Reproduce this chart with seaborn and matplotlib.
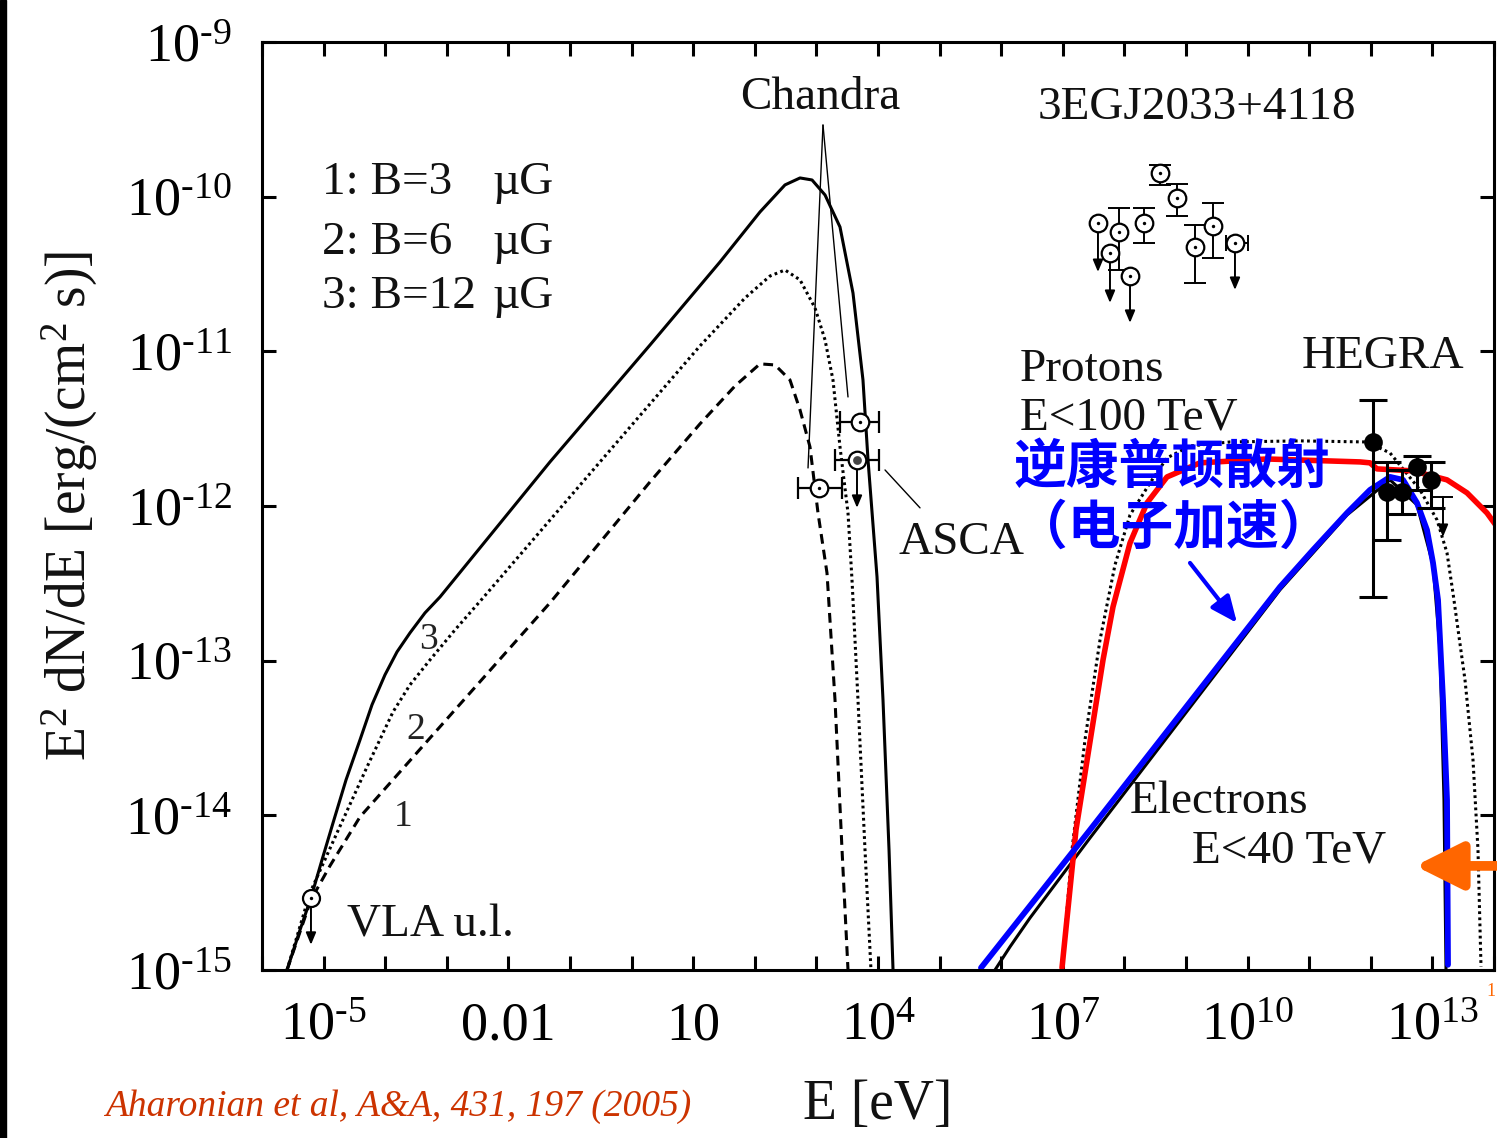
import numpy as np
import pandas as pd
import matplotlib
matplotlib.use("Agg")
import matplotlib.pyplot as plt
import seaborn as sns
from matplotlib.patches import Rectangle

# ---------------------------------------------------------------
# Model curves: log10(E / eV) and log10(E^2 dN/dE / erg cm^-2 s^-1)
# ---------------------------------------------------------------
# synchrotron, B = 12 uG (curve 3, solid)
sync3_logE = [-5.594, -5.383, -5.205, -5.026, -4.847, -4.636, -4.409, -4.214, -4.003,
              -3.808, -3.597, -3.354, -3.110, -1.325, 0.299, 1.435, 2.084, 2.490, 2.734,
              2.929, 3.140, 3.383, 3.594, 3.756, 3.838, 3.984, 4.081, 4.179, 4.244]
sync3_logF = [-15.0, -14.741, -14.533, -14.288, -14.049, -13.771, -13.512, -13.285, -13.091,
              -12.943, -12.820, -12.691, -12.588, -11.715, -10.959, -10.422, -10.099, -9.924,
              -9.879, -9.892, -9.989, -10.196, -10.623, -11.185, -11.702, -12.458, -13.253,
              -14.223, -15.0]
# synchrotron, B = 6 uG (curve 2, dotted)
sync2_logE = [-5.594, -5.221, -4.782, -4.295, -3.873, -3.597, -3.273, -2.867, -2.412, -0.513,
              1.110, 1.841, 2.247, 2.490, 2.734, 2.977, 3.140, 3.269, 3.383, 3.513, 3.578,
              3.675, 3.789, 3.886]
sync2_logF = [-15.0, -14.501, -14.113, -13.687, -13.331, -13.156, -12.995, -12.801, -12.594,
              -11.715, -10.965, -10.655, -10.513, -10.474, -10.538, -10.719, -10.926, -11.185,
              -11.618, -12.045, -12.478, -13.253, -14.223, -15.0]
# synchrotron, B = 3 uG (curve 1, dashed)
sync1_logE = [-5.594, -5.205, -4.896, -4.409, -1.325, 0.299, 1.110, 1.679, 2.084, 2.328,
              2.571, 2.734, 2.896, 3.026, 3.172, 3.302, 3.416, 3.513]
sync1_logF = [-15.0, -14.546, -14.326, -14.010, -12.626, -11.844, -11.469, -11.224, -11.081,
              -11.088, -11.185, -11.379, -11.618, -12.045, -12.433, -13.253, -14.223, -15.0]
# inverse Compton from electrons, E < 40 TeV (black)
ic_logE = [5.899, 6.143, 6.468, 7.442, 10.526, 11.614, 12.312, 12.750, 13.010, 13.123,
           13.188, 13.221]
ic_logF = [-15.0, -14.850, -14.663, -14.146, -12.542, -12.058, -11.831, -11.993, -12.381,
           -12.930, -13.900, -15.0]
# pi0 decay from protons, E < 100 TeV (dotted)
pp_logE = [6.987, 7.149, 7.360, 7.604, 7.847, 8.091, 8.416, 8.692, 9.065, 9.714, 10.851,
           11.938, 12.312, 12.799, 13.075, 13.237, 13.334, 13.529, 13.659, 13.740, 13.789]
pp_logF = [-15.0, -14.223, -13.512, -12.866, -12.381, -12.058, -11.851, -11.689, -11.612,
           -11.586, -11.579, -11.586, -11.657, -11.896, -12.090, -12.303, -12.562, -13.124,
           -13.641, -14.223, -14.979]
# highlighted inverse Compton curve (blue)
blue_logE = [5.672, 7.442, 10.526, 11.062, 11.614, 11.987, 12.312, 12.523, 12.750, 12.912,
             13.010, 13.091, 13.172, 13.237, 13.253]
blue_logF = [-14.986, -14.094, -12.523, -12.284, -12.045, -11.896, -11.812, -11.831, -11.980,
             -12.155, -12.368, -12.607, -13.253, -13.900, -14.966]
# highlighted hadronic curve (red)
red_logE = [6.987, 7.214, 7.653, 7.815, 8.091, 8.367, 8.692, 9.227, 10.315, 11.825, 11.987,
            12.101, 12.685, 13.237, 13.562, 13.886, 14.05]
red_logF = [-14.986, -14.094, -12.995, -12.652, -12.239, -11.980, -11.812, -11.721, -11.696,
            -11.715, -11.721, -11.760, -11.773, -11.831, -11.915, -12.045, -12.135]

# ---------------------------------------------------------------
# Measurements
# ---------------------------------------------------------------
# EGRET 3EG J2033+4118: log E, log F, lower/upper end of bar; upper limits carry an arrow end
egret_logE = [8.578, 8.854, 7.912, 8.318, 9.146, 9.438]
egret_logF = [-9.847, -10.008, -10.228, -10.170, -10.325, -10.189]
egret_lo = [-9.924, -10.125, -10.474, -10.299, -10.558, -10.396]
egret_hi = [-9.795, -9.918, -10.073, -10.073, -10.183, -10.041]
egret_ul_logE = [7.571, 7.766, 8.091, 9.795]
egret_ul_logF = [-10.170, -10.364, -10.513, -10.299]
egret_ul_end = [-10.487, -10.687, -10.816, -10.603]

# HEGRA
hegra_logE = [12.036, 12.263, 12.506, 12.750, 12.977]
hegra_logF = [-11.586, -11.909, -11.909, -11.747, -11.831]
hegra_lo = [-12.588, -12.219, -12.051, -11.896, -12.012]
hegra_hi = [-11.314, -11.715, -11.767, -11.676, -11.715]
hegra_ul_logE = [13.172]
hegra_ul_top = [-11.941]
hegra_ul_end = [-12.200]

# X-ray (Chandra / ASCA): log E, log F, band edges
xray_logE = [3.042, 3.708]
xray_logF = [-11.883, -11.456]
xray_Elo = [2.701, 3.383]
xray_Ehi = [3.416, 4.016]
asca_ul_logE = [3.659]
asca_ul_logF = [-11.702]
asca_ul_Elo = [3.302]
asca_ul_Ehi = [4.016]
asca_ul_end = [-12.012]

# VLA radio upper limit
vla_logE = [-5.205]
vla_logF = [-14.533]
vla_end = [-14.837]

# ---------------------------------------------------------------
# Axis ticks
# ---------------------------------------------------------------
HY = "\u2010"  # short hyphen used for negative exponents
xtick_exp = list(range(-6, 15))
xtick_text = {-5: r"10$^{" + HY + "5}$", -2: "0.01", 1: "10", 4: r"10$^{4}$", 7: r"10$^{7}$",
              10: r"10$^{10}$", 13: r"10$^{13}$"}
ytick_exp = list(range(-15, -8))


def p(v):
    return 10.0 ** np.asarray(v, dtype=float)


sns.set_theme(style="ticks")
plt.rcParams["font.family"] = ["Liberation Serif", "DejaVu Serif"]
plt.rcParams["mathtext.fontset"] = "custom"
plt.rcParams["mathtext.rm"] = "Liberation Serif"
plt.rcParams["mathtext.it"] = "Liberation Serif:italic"
plt.rcParams["mathtext.bf"] = "Liberation Serif:bold"
plt.rcParams["axes.linewidth"] = 2.2

W, H = 1497, 1138
fig = plt.figure(figsize=(W / 100, H / 100), dpi=100)
ax = fig.add_axes([262 / W, 1 - 970 / H, (1494 - 262) / W, (970 - 42) / H])
ax.set_xscale("log")
ax.set_yscale("log")
ax.set_xlim(1e-6, 1e14)
ax.set_ylim(1e-15, 1e-9)

K = "black"
LW = 2.2


def curve(lx, ly, **kw):
    df = pd.DataFrame({"E": p(lx), "F": p(ly)})
    sns.lineplot(data=df, x="E", y="F", ax=ax, estimator=None, sort=False, legend=False, **kw)


curve(sync1_logE, sync1_logF, color=K, lw=LW, linestyle=(0, (3.2, 2.0)))
curve(sync2_logE, sync2_logF, color=K, lw=LW, linestyle=(0, (0.9, 1.1)))
curve(sync3_logE, sync3_logF, color=K, lw=LW)
curve(ic_logE, ic_logF, color=K, lw=LW)
curve(pp_logE, pp_logF, color=K, lw=LW, linestyle=(0, (0.9, 1.1)))
curve(red_logE, red_logF, color="#ff0000", lw=4.0)
curve(blue_logE, blue_logF, color="#0000ff", lw=4.2)

# Chandra spectral lines and ASCA pointer
ax.plot(p([3.107, 2.864]), p([-9.537, -11.754]), color=K, lw=1.0)
ax.plot(p([3.107, 3.513]), p([-9.537, -11.295]), color=K, lw=1.0)
ax.plot(p([4.114, 4.682]), p([-11.767, -12.012]), color=K, lw=1.0)

arrow_kw = dict(arrowstyle="-|>,head_length=0.6,head_width=0.25", color=K, lw=1.4,
                shrinkA=0, shrinkB=0)


def down_arrow(lx, ly0, ly1):
    ax.annotate("", xy=(p(lx), p(ly1)), xytext=(p(lx), p(ly0)), arrowprops=arrow_kw)


def circle_dot(lx, ly, filled=False, size=150):
    df = pd.DataFrame({"E": p(lx), "F": p(ly)})
    sns.scatterplot(data=df, x="E", y="F", ax=ax, marker="o", s=size,
                    facecolor=K if filled else "white", edgecolor=K, linewidth=1.6,
                    zorder=5, legend=False)
    if not filled:
        sns.scatterplot(data=df, x="E", y="F", ax=ax, marker="o", s=6, color=K,
                        linewidth=0, zorder=6, legend=False)


# EGRET
E = p(egret_logE)
F = p(egret_logF)
ax.errorbar(E, F, yerr=[F - p(egret_lo), p(egret_hi) - F], fmt="none", ecolor=K,
            elinewidth=1.4, capsize=8, capthick=1.4, zorder=4)
for lx, ly, le in zip(egret_ul_logE, egret_ul_logF, egret_ul_end):
    down_arrow(lx, ly, le)
ax.errorbar(p(egret_ul_logE[-1:]), p(egret_ul_logF[-1:]),
            xerr=[[p(egret_ul_logE[-1]) - p(9.65)], [p(10.0) - p(egret_ul_logE[-1])]],
            fmt="none", ecolor=K, elinewidth=1.4, capsize=6, capthick=1.4, zorder=4)
circle_dot(egret_logE + egret_ul_logE, egret_logF + egret_ul_logF, size=160)

# HEGRA
E = p(hegra_logE)
F = p(hegra_logF)
ax.errorbar(E, F, yerr=[F - p(hegra_lo), p(hegra_hi) - F], fmt="none", ecolor=K,
            elinewidth=2.2, capsize=10, capthick=2.2, zorder=4)
ax.errorbar(p(hegra_ul_logE), p(hegra_ul_top), yerr=[[0.0], [0.0]], fmt="none", ecolor=K,
            elinewidth=1.2, capsize=7, capthick=1.2, zorder=4)
for lx, ly, le in zip(hegra_ul_logE, hegra_ul_top, hegra_ul_end):
    down_arrow(lx, ly, le)
circle_dot(hegra_logE, hegra_logF, filled=True, size=140)

# X-ray
E = p(xray_logE)
F = p(xray_logF)
ax.errorbar(E, F, xerr=[E - p(xray_Elo), p(xray_Ehi) - E], fmt="none", ecolor=K,
            elinewidth=1.6, capsize=8, capthick=1.6, zorder=4)
E = p(asca_ul_logE)
F = p(asca_ul_logF)
ax.errorbar(E, F, xerr=[E - p(asca_ul_Elo), p(asca_ul_Ehi) - E], fmt="none", ecolor=K,
            elinewidth=1.6, capsize=8, capthick=1.6, zorder=4)
for lx, ly, le in zip(asca_ul_logE, asca_ul_logF, asca_ul_end):
    down_arrow(lx, ly, le)
circle_dot(xray_logE, xray_logF, size=160)
circle_dot(asca_ul_logE, asca_ul_logF, size=160)
sns.scatterplot(x=p(asca_ul_logE), y=p(asca_ul_logF), ax=ax, s=40, color="#444444",
                linewidth=0, zorder=6, legend=False)

# VLA
for lx, ly, le in zip(vla_logE, vla_logF, vla_end):
    down_arrow(lx, ly, le)
circle_dot(vla_logE, vla_logF, size=150)

# ---------------------------------------------------------------
# Axes styling
# ---------------------------------------------------------------
ax.minorticks_off()
ax.set_xticks(p(xtick_exp))
ax.set_xticklabels([xtick_text.get(k, "") for k in xtick_exp])
ax.set_yticks(p(ytick_exp))
ax.set_yticklabels([r"10$^{" + HY + "%d}$" % (-k) for k in ytick_exp])
ax.tick_params(which="major", direction="in", length=10, width=2.2, top=True, right=True,
               labelsize=39, colors=K)
ax.tick_params(axis="x", pad=22)
ax.tick_params(axis="y", pad=22)
for s in ax.spines.values():
    s.set_color(K)
    s.set_linewidth(2.2)
ax.set_xlabel("E [eV]", fontsize=40, labelpad=20, color="#111111")
ax.set_ylabel(r"E$^{2}$ dN/dE [erg/(cm$^{2}$ s)]", fontsize=40, labelpad=18, color="#111111")

# ---------------------------------------------------------------
# Annotations
# ---------------------------------------------------------------
TS = 34
tx = dict(fontsize=TS, color="#111111")
ax.text(p(3.058), p(-9.362), "Chandra", ha="center", va="center", **tx)
ax.text(p(9.179), p(-9.427), "3EGJ2033+4118", ha="center", va="center", **tx)
for ly, lab in zip([-9.911, -10.299, -10.648], ["1: B=3", "2: B=6", "3: B=12"]):
    ax.text(p(-5.026), p(ly), lab, ha="left", va="center", **tx)
    ax.text(p(-2.266), p(ly), "\u00b5G", ha="left", va="center", **tx)
ax.text(p(6.305), p(-11.120), "Protons", ha="left", va="center", **tx)
ax.text(p(6.305), p(-11.430), "E<100 TeV", ha="left", va="center", **tx)
ax.text(p(10.883), p(-11.036), "HEGRA", ha="left", va="center", **tx)
ax.text(p(4.325), p(-12.239), "ASCA", ha="left", va="center", **tx)
ax.text(p(8.091), p(-13.913), "Electrons", ha="left", va="center", **tx)
ax.text(p(9.097), p(-14.230), "E<40 TeV", ha="left", va="center", **tx)
ax.text(p(-4.620), p(-14.708), "VLA u.l.", ha="left", va="center", **tx)
for lx, ly, lab in zip([-3.305, -3.5, -3.711], [-12.866, -13.447, -14.010], ["3", "2", "1"]):
    ax.text(p(lx), p(ly), lab, ha="center", va="center", fontsize=27, color="#222222")

cjk = ["Noto Sans CJK SC", "DejaVu Sans"]
ax.text(p(6.20), p(-11.747), "逆康普顿散射", ha="left", va="center", fontsize=38,
        fontweight="bold", color="#0000ff", family=cjk, zorder=7)
ax.text(p(6.22), p(-12.142), "（电子加速）", ha="left", va="center", fontsize=38,
        fontweight="bold", color="#0000ff", family=cjk, zorder=7)
ax.annotate("", xy=(p(9.828), p(-12.756)), xytext=(p(9.065), p(-12.368)),
            arrowprops=dict(arrowstyle="-|>,head_length=0.8,head_width=0.35", color="#0000ff",
                            lw=3, shrinkA=0, shrinkB=0, mutation_scale=20))

# orange marker arrow at the right edge
ax.annotate("", xy=(p(12.72), p(-14.327)), xytext=(p(14.3), p(-14.327)),
            arrowprops=dict(arrowstyle="-|>,head_length=1.1,head_width=0.55", color="#ff6600",
                            lw=7, shrinkA=0, shrinkB=0, mutation_scale=26),
            annotation_clip=False)
fig.text(1496 / W, 1 - 992 / H, "1", fontsize=13, color="#ff6600", ha="right", va="center")

fig.text(105 / W, 1 - 1107 / H, "Aharonian et al, A&A, 431, 197 (2005)", fontsize=27,
         style="italic", color="#cc3300", ha="left", va="center")

fig.add_artist(Rectangle((0, 0), 6 / W, 1, transform=fig.transFigure, color="black"))

fig.savefig("out.png", dpi=100)
